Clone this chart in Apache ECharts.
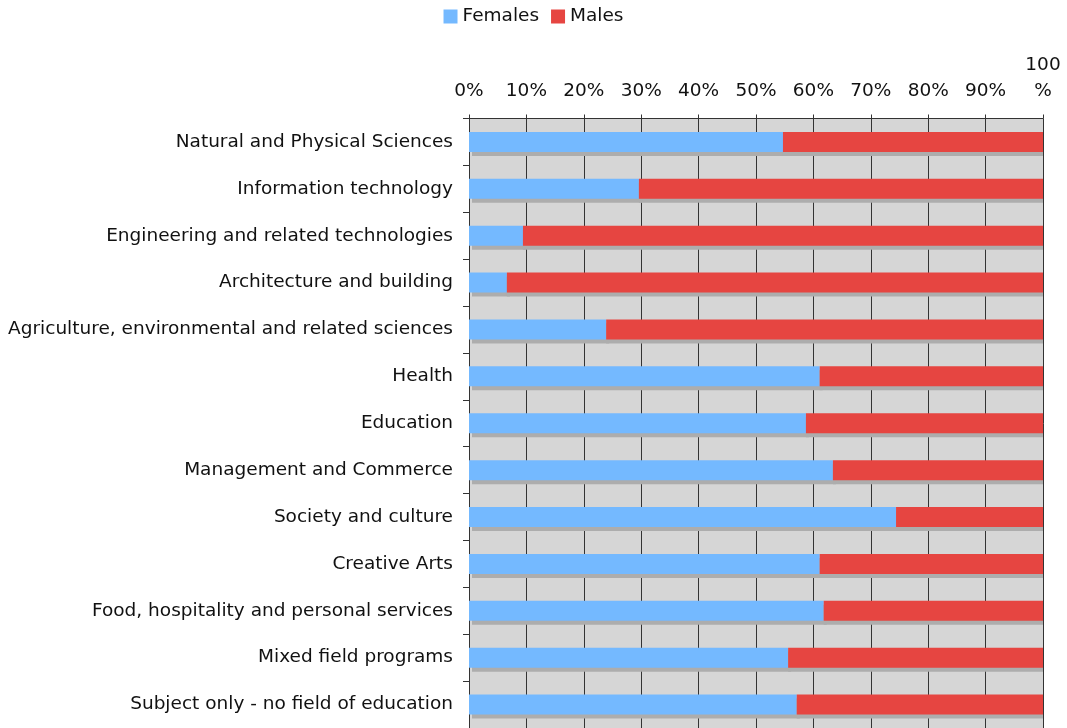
<!DOCTYPE html>
<html>
<head>
<meta charset="utf-8">
<style>
  html, body { margin: 0; padding: 0; background: #fff; }
  #main { width: 1067px; height: 728px; }
</style>
</head>
<body>
<div id="main"></div>
<script src="https://cdn.jsdelivr.net/npm/echarts@6/dist/echarts.min.js"></script>
<script>
    // 数据
    var categories = [
        'Natural and Physical Sciences',
        'Information technology',
        'Engineering and related technologies',
        'Architecture and building',
        'Agriculture, environmental and related sciences',
        'Health',
        'Education',
        'Management and Commerce',
        'Society and culture',
        'Creative Arts',
        'Food, hospitality and personal services',
        'Mixed field programs',
        'Subject only - no field of education'
    ];
    var females = [54.7, 29.6, 9.4, 6.6, 23.9, 61.1, 58.7, 63.4, 74.4, 61.1, 61.8, 55.6, 57.1];
    var males = [45.3, 70.4, 90.6, 93.4, 76.1, 38.9, 41.3, 36.6, 25.6, 38.9, 38.2, 44.4, 42.9];
    var xTicks = [0, 10, 20, 30, 40, 50, 60, 70, 80, 90, 100];

    var font = 'DejaVu Sans, Verdana, sans-serif';
    var fs = 18.5;
    var myChart = echarts.init(document.getElementById('main'));
    var option = {
        animation: false,
        textStyle: { fontFamily: font },
        legend: {
            top: 2,
            left: 'center',
            icon: 'rect',
            itemWidth: 14,
            itemHeight: 14,
            itemGap: 12,
            textStyle: { fontSize: fs, color: '#111', fontFamily: font },
            data: ['Females', 'Males']
        },
        grid: {
            left: 469,
            right: 24,
            top: 118.5,
            bottom: -4,
            show: true,
            backgroundColor: '#d6d6d6',
            borderWidth: 0
        },
        xAxis: {
            type: 'value',
            position: 'top',
            min: xTicks[0],
            max: xTicks[xTicks.length - 1],
            interval: 10,
            axisLine: { show: true, lineStyle: { color: '#333', width: 1 } },
            axisTick: { show: true, length: 4, lineStyle: { color: '#333' } },
            splitLine: { show: true, lineStyle: { color: '#333', width: 1 } },
            axisLabel: {
                fontSize: fs,
                color: '#111',
                fontFamily: font,
                margin: 14,
                lineHeight: 26,
                formatter: function (v) {
                    return v === 100 ? '100\n%' : v + '%';
                }
            }
        },
        yAxis: {
            type: 'category',
            inverse: true,
            data: categories,
            axisLine: { show: true, lineStyle: { color: '#333' } },
            axisTick: { show: true, length: 6, lineStyle: { color: '#333' } },
            axisLabel: { fontSize: fs, color: '#111', fontFamily: font, margin: 16 }
        },
        series: [
            {
                name: 'Females',
                type: 'bar',
                stack: 'total',
                barWidth: 20,
                data: females,
                itemStyle: {
                    color: '#74b9ff',
                    shadowColor: '#adadad',
                    shadowBlur: 0,
                    shadowOffsetX: 3,
                    shadowOffsetY: 4
                }
            },
            {
                name: 'Males',
                type: 'bar',
                stack: 'total',
                barWidth: 20,
                data: males,
                itemStyle: {
                    color: '#e64541',
                    shadowColor: '#adadad',
                    shadowBlur: 0,
                    shadowOffsetX: 0,
                    shadowOffsetY: 4
                }
            }
        ]
    };
    myChart.setOption(option);
</script>
</body>
</html>
